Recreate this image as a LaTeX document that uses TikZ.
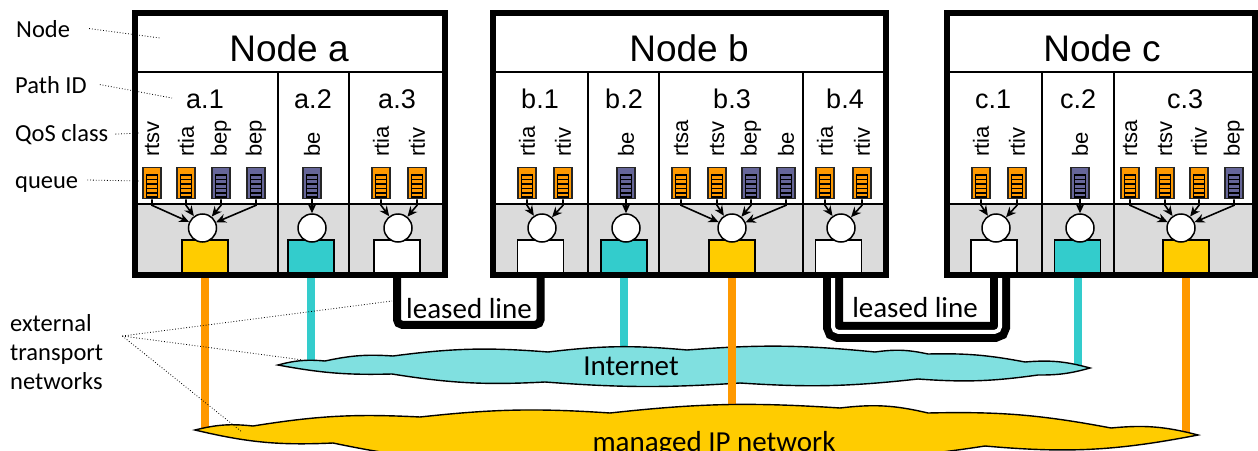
\documentclass[tikz,border=0pt]{standalone}
\usepackage{fontspec}
\setmainfont{Carlito}
\newfontfamily\arialfont{Liberation Sans}
\usetikzlibrary{arrows.meta,backgrounds}

\definecolor{qorange}{HTML}{FF9900}
\definecolor{qblue}{HTML}{666699}
\definecolor{portgold}{HTML}{FFCC00}
\definecolor{portteal}{HTML}{33CCCC}
\definecolor{inetcol}{HTML}{80E0E0}
\definecolor{boxgray}{HTML}{DBDBDB}

\begin{document}
\begin{tikzpicture}[x=1pt, y=1pt,
  every node/.style={inner sep=0pt},
  queuebox/.style={draw=black!85, line width=1.6pt, minimum width=18.5pt, minimum height=31pt},
  qos/.style={rotate=90, anchor=west, font=\arialfont\fontsize{22}{22}\selectfont},
  pathid/.style={anchor=base, font=\arialfont\fontsize{27}{27}\selectfont},
  title/.style={anchor=base, font=\arialfont\fontsize{37}{37}\selectfont},
  sched/.style={circle, draw, line width=1.5pt, fill=white, minimum size=28pt},
  port/.style={draw, line width=1.5pt, minimum width=46pt, minimum height=33pt},
  qarrow/.style={line width=1.6pt, -{Stealth[length=10pt,width=9pt]}},
  frameline/.style={line width=6pt},
  divider/.style={line width=1.5pt},
  sidetext/.style={anchor=base west, font=\fontsize{24.5}{29}\selectfont},
  leader/.style={line width=0.8pt, dotted},
  leased/.style={line width=8pt, rounded corners=5pt},
  access/.style={line width=8pt},
  netcloud/.style={draw, line width=1.4pt},
  netlabel/.style={anchor=base, font=\fontsize{29}{29}\selectfont}]
  \useasboundingbox (0,0) rectangle (1258,-450);

  %----- queue: (name, x, colour, QoS class) -----
  \def\queue#1#2#3#4{%
    \node[queuebox, fill=#3] (#1) at (#2,-183) {};
    \draw[line width=1.1pt] (#2-5.5,-175) rectangle (#2+5.5,-197);
    \foreach \yy in {179.5,184,188.5,193}
      \draw[line width=1.1pt] (#2-5.5,-\yy) -- (#2+5.5,-\yy);
    \node[qos] (#1l) at (#2,-157) {#4};
  }
  % queue -> scheduler
  \def\feed#1#2{\draw[qarrow] (#1.south) -- ([yshift=-6pt]#1.south) -- (#2);}

  %----- Node a -----
  \fill[boxgray] (135,-204) rectangle (445,-275);
  \draw[divider] (135,-72) -- (445,-72) (135,-204) -- (445,-204)
    (278,-72) -- (278,-275) (349,-72) -- (349,-275);
  \draw[frameline] (135,-13) rectangle (445,-275);
  \node[title] (ta) at (289,-61) {Node a};
  \node[pathid] (a1) at (205,-108) {a.1};
  \node[pathid] (a2) at (313,-108) {a.2};
  \node[pathid] (a3) at (397,-108) {a.3};
  \queue{a1q1}{152}{qorange}{rtsv}
  \queue{a1q2}{186}{qorange}{rtia}
  \queue{a1q3}{221}{qblue}{bep}
  \queue{a1q4}{256}{qblue}{bep}
  \queue{a2q1}{312}{qblue}{be}
  \queue{a3q1}{381}{qorange}{rtia}
  \queue{a3q2}{417}{qorange}{rtiv}
  \node[port, fill=portgold] (a1p) at (205,-256.5) {};
  \node[port, fill=portteal] (a2p) at (311,-256.5) {};
  \node[port, fill=white] (a3p) at (397,-256.5) {};
  \node[sched] (a1s) at (202.5,-228) {};
  \node[sched] (a2s) at (312,-228) {};
  \node[sched] (a3s) at (398,-228) {};
  \feed{a1q1}{a1s} \feed{a1q2}{a1s} \feed{a1q3}{a1s} \feed{a1q4}{a1s}
  \feed{a2q1}{a2s}
  \feed{a3q1}{a3s} \feed{a3q2}{a3s}

  %----- Node b -----
  \fill[boxgray] (493,-204) rectangle (886,-275);
  \draw[divider] (493,-72) -- (886,-72) (493,-204) -- (886,-204)
    (588,-72) -- (588,-275) (659,-72) -- (659,-275) (803,-72) -- (803,-275);
  \draw[frameline] (493,-13) rectangle (886,-275);
  \node[title] (tb) at (689,-61) {Node b};
  \node[pathid] (b1) at (540,-108) {b.1};
  \node[pathid] (b2) at (624,-108) {b.2};
  \node[pathid] (b3) at (732,-108) {b.3};
  \node[pathid] (b4) at (845,-108) {b.4};
  \queue{b1q1}{527}{qorange}{rtia}
  \queue{b1q2}{563}{qorange}{rtiv}
  \queue{b2q1}{626}{qblue}{be}
  \queue{b3q1}{681}{qorange}{rtsa}
  \queue{b3q2}{717}{qorange}{rtsv}
  \queue{b3q3}{751}{qblue}{bep}
  \queue{b3q4}{786}{qblue}{be}
  \queue{b4q1}{825}{qorange}{rtia}
  \queue{b4q2}{862}{qorange}{rtiv}
  \node[port, fill=white] (b1p) at (540.5,-256.5) {};
  \node[port, fill=portteal] (b2p) at (624,-256.5) {};
  \node[port, fill=portgold] (b3p) at (732,-256.5) {};
  \node[port, fill=white] (b4p) at (838.5,-256.5) {};
  \node[sched] (b1s) at (542,-228) {};
  \node[sched] (b2s) at (626,-228) {};
  \node[sched] (b3s) at (732,-228) {};
  \node[sched] (b4s) at (841,-228) {};
  \feed{b1q1}{b1s} \feed{b1q2}{b1s}
  \feed{b2q1}{b2s}
  \feed{b3q1}{b3s} \feed{b3q2}{b3s} \feed{b3q3}{b3s} \feed{b3q4}{b3s}
  \feed{b4q1}{b4s} \feed{b4q2}{b4s}

  %----- Node c -----
  \fill[boxgray] (947,-204) rectangle (1255,-275);
  \draw[divider] (947,-72) -- (1255,-72) (947,-204) -- (1255,-204)
    (1042,-72) -- (1042,-275) (1114,-72) -- (1114,-275);
  \draw[frameline] (947,-13) rectangle (1255,-275);
  \node[title] (tc) at (1102,-61) {Node c};
  \node[pathid] (c1) at (993,-108) {c.1};
  \node[pathid] (c2) at (1078,-108) {c.2};
  \node[pathid] (c3) at (1185,-108) {c.3};
  \queue{c1q1}{981}{qorange}{rtia}
  \queue{c1q2}{1017}{qorange}{rtiv}
  \queue{c2q1}{1080}{qblue}{be}
  \queue{c3q1}{1130}{qorange}{rtsa}
  \queue{c3q2}{1165}{qorange}{rtsv}
  \queue{c3q3}{1199}{qorange}{rtiv}
  \queue{c3q4}{1234}{qblue}{bep}
  \node[port, fill=white] (c1p) at (994,-256.5) {};
  \node[port, fill=portteal] (c2p) at (1077.5,-256.5) {};
  \node[port, fill=portgold] (c3p) at (1186,-256.5) {};
  \node[sched] (c1s) at (996,-228) {};
  \node[sched] (c2s) at (1080,-228) {};
  \node[sched] (c3s) at (1181,-228) {};
  \feed{c1q1}{c1s} \feed{c1q2}{c1s}
  \feed{c2q1}{c2s}
  \feed{c3q1}{c3s} \feed{c3q2}{c3s} \feed{c3q3}{c3s} \feed{c3q4}{c3s}

  %----- leased lines, access lines, clouds -----
  \node[netlabel] (ll1) at (469,-318) {leased line};
  \node[netlabel] (ll2) at (915,-317) {leased line};
  \node[netlabel] (inet) at (631,-375) {Internet};
  \node[netlabel] (mip) at (714,-451) {managed IP network};
  \coordinate (inA) at (311,-366);
  \coordinate (inB) at (624,-366);
  \coordinate (inC) at (1077.5,-370);
  \coordinate (mipA) at (205,-428);
  \coordinate (mipB) at (732,-430);
  \coordinate (mipC) at (1186,-432);
  \begin{scope}[on background layer]
    \clip (0,0) rectangle (1258,-450);
    \draw[leased] (a3p.south) -- ++(0,-51) -| (b1p.south);
    \draw[leased, double distance=4pt] ([xshift=-5.5pt]b4p.south) -- ++(0,-58)
      -| ([xshift=6pt]c1p.south);
    \draw[access, portteal] (a2p.south) -- (inA);
    \draw[access, portteal] (b2p.south) -- (inB);
    \draw[access, portteal] (c2p.south) -- (inC);
    % Internet
    \draw[netcloud, fill=inetcol] (278,-365) to[bend left=10] (325,-361)
      to[bend left=8] (393,-356) to[bend left=6] (548,-352) to[bend left=6] (687,-350)
      to[bend left=5] (875,-352) to[bend left=10] (928,-354) to[bend left=6] (1025,-362)
      to[bend left=10] (1090,-368) to[bend left=8] (1038,-375) to[bend left=6] (918,-379)
      to[bend left=5] (740,-383) to[bend left=4] (545,-382) to[bend left=6] (392,-374)
      to[bend left=6] (278,-365) -- cycle;
    \draw[access, qorange] (a1p.south) -- (mipA);
    \draw[access, qorange] (b3p.south) -- (mipB);
    \draw[access, qorange] (c3p.south) -- (mipC);
    % managed IP network
    \draw[netcloud, fill=portgold] (195,-430) to[bend left=10] (253,-426)
      to[bend left=6] (420,-417) to[bend left=5] (610,-413) to[bend left=5] (840,-408)
      to[bend left=10] (928,-413) to[bend left=6] (1111,-428) to[bend left=10] (1198,-435)
      to[bend left=8] (985,-446) to[bend left=5] (800,-458) to[bend left=4] (500,-460)
      to[bend left=6] (333,-443) to[bend left=8] (195,-430) -- cycle;
  \end{scope}

  %----- side labels -----
  \node[sidetext] (lnode) at (16,-37) {Node};
  \node[sidetext] (lpath) at (15,-93) {Path ID};
  \node[sidetext] (lqos) at (15,-141) {QoS class};
  \node[sidetext] (lqueue) at (15,-188) {queue};
  \node[sidetext, align=left, anchor=west] (lext) at (10,-352) {external\\transport\\networks};
  \coordinate (ptnode) at (160,-38);
  \coordinate (ptpath) at (172,-98);
  \coordinate (ptqos) at (140,-133);
  \coordinate (ptqueue) at (140,-181);
  \coordinate (ptlease) at (392,-301);
  \coordinate (ptinet) at (303,-360);
  \coordinate (ptmip) at (242,-432);
  \draw[leader] ([xshift=19pt]lnode.east) -- (ptnode);
  \draw[leader] ([xshift=13pt]lpath.east) -- (ptpath);
  \draw[leader] ([xshift=7pt]lqos.east) -- (ptqos);
  \draw[leader] ([xshift=9pt,yshift=4pt]lqueue.east) -- (ptqueue);
  \draw[leader] ([xshift=19pt,yshift=16pt]lext.east) -- (ptlease);
  \draw[leader] ([xshift=19pt,yshift=16pt]lext.east) -- (ptinet);
  \draw[leader] ([xshift=19pt,yshift=16pt]lext.east) -- (ptmip);
\end{tikzpicture}
\end{document}
